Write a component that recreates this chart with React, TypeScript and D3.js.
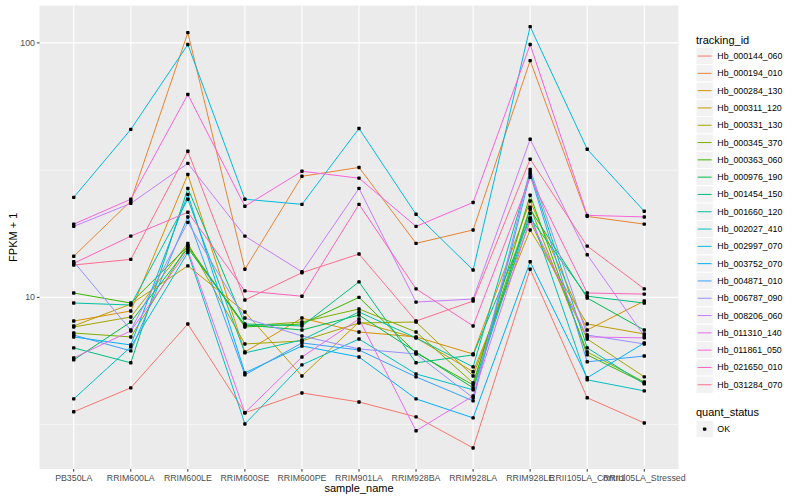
import * as d3 from "d3";

const samples = [
  "PB350LA", "RRIM600LA", "RRIM600LE", "RRIM600SE", "RRIM600PE", "RRIM901LA",
  "RRIM928BA", "RRIM928LA", "RRIM928LE", "RRII105LA_Control", "RRII105LA_Stressed",
];

const trackingIds = [
  "Hb_000144_060", "Hb_000194_010", "Hb_000284_130", "Hb_000311_120", "Hb_000331_130",
  "Hb_000345_370", "Hb_000363_060", "Hb_000976_190", "Hb_001454_150", "Hb_001660_120",
  "Hb_002027_410", "Hb_002997_070", "Hb_003752_070", "Hb_004871_010", "Hb_006787_090",
  "Hb_008206_060", "Hb_011310_140", "Hb_011861_050", "Hb_021650_010", "Hb_031284_070",
];

// FPKM + 1, one row per tracking_id, one value per sample
const fpkm = [
  [3.55, 4.41, 7.86, 3.52, 4.21, 3.88, 3.39, 2.56, 12.9, 4.03, 3.21],
  [14.5, 23.9, 109.7, 12.9, 29.9, 32.4, 16.3, 18.4, 85.2, 20.8, 19.4],
  [8.07, 8.84, 30.4, 6.1, 8.29, 7.31, 6.99, 5.99, 23.9, 7.44, 9.67],
  [7.72, 9.41, 13.3, 8.76, 4.91, 8.0, 6.93, 5.1, 18.4, 7.86, 7.18],
  [7.65, 8.37, 16.3, 6.56, 6.74, 7.93, 8.0, 4.91, 19.9, 6.86, 4.87],
  [7.24, 6.99, 16.0, 7.72, 8.0, 9.0, 7.31, 4.61, 22.6, 6.1, 4.65],
  [10.4, 9.5, 15.9, 7.65, 7.86, 10.0, 6.05, 4.53, 25.2, 5.94, 4.61],
  [5.68, 8.0, 15.6, 7.79, 7.44, 8.52, 6.1, 4.41, 22.2, 9.94, 7.44],
  [6.33, 5.53, 26.8, 7.86, 7.72, 11.5, 5.53, 5.94, 20.5, 10.1, 9.5],
  [9.5, 9.33, 24.3, 6.05, 6.8, 8.76, 6.93, 5.33, 31.0, 6.33, 4.57],
  [3.99, 6.39, 15.0, 3.18, 5.43, 6.86, 5.0, 4.33, 21.4, 4.74, 4.29],
  [24.7, 45.7, 98.5, 24.3, 23.2, 46.1, 21.2, 12.8, 115.8, 38.2, 21.8],
  [6.99, 6.5, 25.4, 5.05, 6.44, 5.83, 3.99, 3.36, 13.8, 4.83, 6.62],
  [7.11, 6.16, 20.7, 4.96, 6.62, 6.21, 4.87, 3.92, 30.4, 5.58, 5.88],
  [13.8, 7.44, 19.7, 8.29, 7.05, 6.27, 5.99, 4.03, 31.8, 7.11, 6.56],
  [19.0, 23.4, 33.6, 17.4, 12.6, 26.8, 9.58, 9.85, 41.8, 14.7, 7.05],
  [5.78, 7.38, 15.3, 3.52, 5.83, 8.22, 2.99, 4.1, 20.3, 6.99, 6.93],
  [19.4, 24.3, 62.7, 22.8, 31.3, 29.4, 19.0, 23.6, 98.5, 21.0, 20.7],
  [13.6, 17.4, 21.6, 10.6, 10.1, 23.2, 10.8, 7.72, 29.6, 10.4, 10.3],
  [13.4, 14.1, 37.5, 9.76, 12.5, 14.8, 8.07, 9.67, 34.9, 15.9, 10.8],
];

const yTicks = [10, 100];
const yMinor = [Math.sqrt(10), Math.sqrt(1000)];
const quantStatus = ["OK"];

// ggplot2 default hue palette for 20 groups
const palette = [
  "#F8766D", "#EA8331", "#D89000", "#C09B00", "#A3A500", "#7CAE00", "#39B600",
  "#00BB4E", "#00BF7D", "#00C1A3", "#00BFC4", "#00BAE0", "#00B0F6", "#35A2FF",
  "#9590FF", "#C77CFF", "#E76BF3", "#FA62DB", "#FF62BC", "#FF6C91",
];

const font = "'Liberation Sans', Arial, sans-serif";

export default function App() {
  const width = 800;
  const height = 500;
  const panel = { left: 39.5, right: 678.5, top: 5.6, bottom: 469 };

  const x = d3
    .scalePoint<string>()
    .domain(samples)
    .range([panel.left, panel.right])
    .padding(0.6);

  // ggplot-style 5% expansion in log space
  const all = fpkm.flat();
  const lo = Math.log10(d3.min(all) || 1);
  const hi = Math.log10(d3.max(all) || 10);
  const pad = (hi - lo) * 0.05;
  const y = d3
    .scaleLog()
    .domain([Math.pow(10, lo - pad), Math.pow(10, hi + pad)])
    .range([panel.bottom, panel.top]);

  const colour = d3.scaleOrdinal<string, string>().domain(trackingIds).range(palette);

  const line = d3
    .line<number>()
    .x((_, i) => x(samples[i])!)
    .y((d) => y(d));

  const keyH = 17.3;
  const legendX = 696;
  const keysTop = 47.4;

  return (
    <svg
      width={width}
      height={height}
      style={{ position: "absolute", left: 0, top: 0, fontFamily: font }}
    >
      <rect width={width} height={height} fill="#fff" />
      <rect
        x={panel.left}
        y={panel.top}
        width={panel.right - panel.left}
        height={panel.bottom - panel.top}
        fill="#EBEBEB"
      />
      {yMinor.map((v) => (
        <line key={"mn" + v} x1={panel.left} x2={panel.right} y1={y(v)} y2={y(v)} stroke="#fff" strokeWidth={0.55} />
      ))}
      {yTicks.map((v) => (
        <line key={"mj" + v} x1={panel.left} x2={panel.right} y1={y(v)} y2={y(v)} stroke="#fff" strokeWidth={1.1} />
      ))}
      {samples.map((s) => (
        <line key={"vx" + s} x1={x(s)} x2={x(s)} y1={panel.top} y2={panel.bottom} stroke="#fff" strokeWidth={1.1} />
      ))}

      <g fill="none" strokeWidth={1}>
        {fpkm.map((row, i) => (
          <path key={trackingIds[i]} d={line(row) || ""} stroke={colour(trackingIds[i])} />
        ))}
      </g>
      <g fill="#000">
        {fpkm.map((row, i) =>
          row.map((v, j) => (
            <rect key={i + "-" + j} x={x(samples[j])! - 1.7} y={y(v) - 1.7} width={3.4} height={3.4} rx={0.8} />
          ))
        )}
      </g>

      {/* y axis */}
      {yTicks.map((v) => (
        <g key={"yt" + v}>
          <line x1={panel.left - 2.7} x2={panel.left} y1={y(v)} y2={y(v)} stroke="#333" />
          <text x={panel.left - 4.5} y={y(v)} textAnchor="end" dominantBaseline="central" fontSize={8.8} fill="#4D4D4D">
            {v}
          </text>
        </g>
      ))}
      {/* x axis */}
      {samples.map((s) => (
        <g key={"xt" + s}>
          <line x1={x(s)} x2={x(s)} y1={panel.bottom} y2={panel.bottom + 2.7} stroke="#333" />
          <text x={x(s)} y={panel.bottom + 11.5} textAnchor="middle" fontSize={8.8} fill="#4D4D4D">
            {s}
          </text>
        </g>
      ))}
      <text x={(panel.left + panel.right) / 2} y={492} textAnchor="middle" fontSize={11} fill="#000">
        sample_name
      </text>
      <text
        transform={`translate(13,${(panel.top + panel.bottom) / 2}) rotate(-90)`}
        textAnchor="middle"
        dominantBaseline="central"
        fontSize={11}
        fill="#000"
      >
        FPKM + 1
      </text>

      {/* legend: tracking_id */}
      <text x={legendX} y={44} fontSize={11} fill="#000">
        tracking_id
      </text>
      {trackingIds.map((id, i) => {
        const top = keysTop + i * keyH;
        return (
          <g key={"lg" + id}>
            <rect x={legendX} y={top} width={keyH} height={keyH} fill="#F2F2F2" stroke="#fff" strokeWidth={1} />
            <line x1={legendX + 1.7} x2={legendX + keyH - 1.7} y1={top + keyH / 2} y2={top + keyH / 2} stroke={colour(id)} strokeWidth={1} />
            <text x={legendX + keyH + 4} y={top + keyH / 2} dominantBaseline="central" fontSize={8.8} fill="#000">
              {id}
            </text>
          </g>
        );
      })}

      {/* legend: quant_status */}
      <text x={legendX} y={415.5} fontSize={11} fill="#000">
        quant_status
      </text>
      {quantStatus.map((q, i) => {
        const top = 420.5 + i * keyH;
        return (
          <g key={"qs" + q}>
            <rect x={legendX} y={top} width={keyH} height={keyH} fill="#F2F2F2" stroke="#fff" strokeWidth={1} />
            <rect x={legendX + keyH / 2 - 1.7} y={top + keyH / 2 - 1.7} width={3.4} height={3.4} rx={0.8} fill="#000" />
            <text x={legendX + keyH + 4} y={top + keyH / 2} dominantBaseline="central" fontSize={8.8} fill="#000">
              {q}
            </text>
          </g>
        );
      })}
    </svg>
  );
}
